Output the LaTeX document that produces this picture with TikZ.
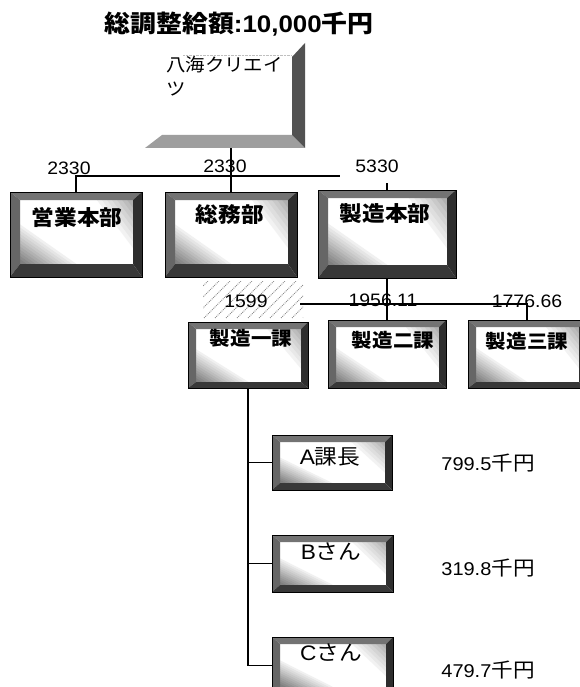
\documentclass[tikz,border=0pt]{standalone}
\usepackage{fontspec}
\setmainfont{Liberation Sans}[FakeStretch=1.08]
\newfontfamily\jp{Noto Sans CJK JP}[FakeStretch=1.08]
\usetikzlibrary{calc}
\newcommand\bevbox[9]{%
 \node[inner sep=0pt, minimum width={#4-#2}, minimum height={#5-#3}] (#1) at ({(#2+#4)/2},{(#3+#5)/2}) {};
 \pgfmathsetmacro\bxl{#2+#6}\pgfmathsetmacro\bxr{#4-#8}%
 \pgfmathsetmacro\byt{#3+#7}\pgfmathsetmacro\byb{#5-#9}%
 \pgfmathsetmacro\bw{\bxr-\bxl}\pgfmathsetmacro\bh{\byb-\byt}%
 \fill[white] (\bxl,\byt) rectangle (\bxr,\byb);
 \foreach \s/\c in {1/6,0.92/10,0.84/14,0.76/18,0.68/22,0.6/26,0.52/30,0.44/34,0.36/38,0.28/42,0.2/46,0.12/50}
  \fill[black!\c] (\bxl,\byb) -- ({\bxl+\s*0.5*\bw},\byb) -- (\bxl,{\byb-\s*0.62*\bh}) -- cycle;
 \foreach \s/\c in {1/5,0.86/9,0.72/13,0.58/17,0.44/21,0.3/26,0.16/31}
  \fill[black!\c] (\bxr,\byt) -- ({\bxr-\s*0.32*\bw},\byt) -- (\bxr,{\byt+\s*0.75*\bh}) -- cycle;
 \fill[black!55] (#2,#3) -- (#4,#3) -- ({#4-#8},{#3+#7}) -- ({#2+#6},{#3+#7}) -- cycle;
 \fill[black!60] (#2,#3) -- ({#2+#6},{#3+#7}) -- ({#2+#6},{#5-#9}) -- (#2,#5) -- cycle;
 \fill[black!82] (#4,#3) -- (#4,#5) -- ({#4-#8},{#5-#9}) -- ({#4-#8},{#3+#7}) -- cycle;
 \fill[black!78] (#2,#5) -- (#4,#5) -- ({#4-#8},{#5-#9}) -- ({#2+#6},{#5-#9}) -- cycle;
 \draw[black, line width=0.8pt] (#2,#3) rectangle (#4,#5);
}
\tikzset{
 conn/.style={draw=black, line width=1.3pt},
 num/.style={inner sep=0pt, font=\fontsize{18}{20}\selectfont},
 lab1/.style={inner sep=0pt, font=\fontsize{21}{23}\selectfont\jp\bfseries},
 lab2/.style={inner sep=0pt, font=\fontsize{19}{21}\selectfont\jp\bfseries},
 lab3/.style={inner sep=0pt, font=\fontsize{21}{23}\selectfont},
 amt/.style={inner sep=0pt, font=\fontsize{18.5}{20}\selectfont},
}
\begin{document}
\begin{tikzpicture}[x=1pt,y=-1pt]
\useasboundingbox (0,0) rectangle (579,687);
\fill[white] (0,0) rectangle (579,687);

% title
\node[inner sep=0pt, font=\fontsize{24}{26}\selectfont\bfseries] (title) at (239,24) {{\jp 総調整給額}:10,000{\jp 千円}};

% top sheet
\node[inner sep=0pt, minimum width=160, minimum height=105] (top) at (225,95.5) {};
\fill[black!38] (162,135) -- (292,135) -- (305,148) -- (145,148) -- cycle;
\fill[black!68] (292,57) -- (305,43) -- (305,148) -- (292,135) -- cycle;
\draw[black!25, densely dotted] (183,55) -- (292,55);
\node[inner sep=0pt, anchor=north west, align=left, font=\fontsize{18}{24}\selectfont\jp] (toptext) at (166,56) {八海クリエイ\\ツ};

% hatch behind 1599
\begin{scope}
 \clip (203,281) rectangle (303,318);
 \foreach \i in {0,11,...,150} \draw[black!45, densely dotted, line width=0.9pt] ({160+\i},318) -- ++(42,-42);
\end{scope}

% row 1 boxes
\bevbox{eigyo}{10}{192}{142}{277}{10}{8}{9}{13}
\bevbox{somu}{165}{192}{297}{277}{10}{8}{9}{13}
\bevbox{seizo}{318}{190}{456}{278}{10}{8}{9}{13}
\node[lab1] (eigyo-t) at (77,217) {営業本部};
\node[lab1] (somu-t) at (230,215) {総務部};
\node[lab1] (seizo-t) at (385,214) {製造本部};

% row 2 boxes
\bevbox{ka1}{188}{322}{308}{388}{8}{7}{7}{6}
\bevbox{ka2}{328}{320}{446}{388}{8}{7}{7}{6}
\bevbox{ka3}{468}{320}{586}{388}{8}{7}{7}{6}
\node[lab2] (ka1-t) at (251,338) {製造一課};
\node[lab2] (ka2-t) at (393,340) {製造二課};
\node[lab2] (ka3-t) at (527,341) {製造三課};

% row 3 boxes
\bevbox{pa}{272}{435}{392}{490}{8}{7}{7}{7}
\bevbox{pb}{272}{535}{393}{592}{8}{7}{7}{7}
\bevbox{pc}{272}{637}{393}{694}{8}{7}{7}{7}
\node[lab3] (pa-t) at (330,457) {A{\jp 課長}};
\node[lab3] (pb-t) at (331,552) {B{\jp さん}};
\node[lab3] (pc-t) at (331,653) {C{\jp さん}};

% connectors
\coordinate (h1end) at (340,176);
\draw[conn] (somu.north |- top.south) -- (somu.north);
\draw[conn] (eigyo.north) |- (h1end);
\draw[conn] (seizo.north) -- ++(0,-7);
\draw[conn] (seizo.south) -- (ka2.north);
\coordinate (h2start) at (300,304);
\draw[conn] (h2start) -| (ka3.north);
\draw[conn] (ka1.south) |- (pc.west);
\draw[conn] (ka1.south |- pa.west) -- (pa.west);
\draw[conn] (ka1.south |- pb.west) -- (pb.west);

% numbers
\node[num] (n1) at (69,168) {2330};
\node[num] (n2) at (225,166) {2330};
\node[num] (n3) at (377,166) {5330};
\node[num] (n4) at (246,301) {1599};
\node[num] (n5) at (383,300) {1956.11};
\node[num] (n6) at (527,301) {1776.66};

% amounts
\node[amt] (a1) at (488,463) {799.5{\jp\fontsize{20}{21}\selectfont 千円}};
\node[amt] (a2) at (488,568) {319.8{\jp\fontsize{20}{21}\selectfont 千円}};
\node[amt] (a3) at (488,670) {479.7{\jp\fontsize{20}{21}\selectfont 千円}};
\end{tikzpicture}
\end{document}
